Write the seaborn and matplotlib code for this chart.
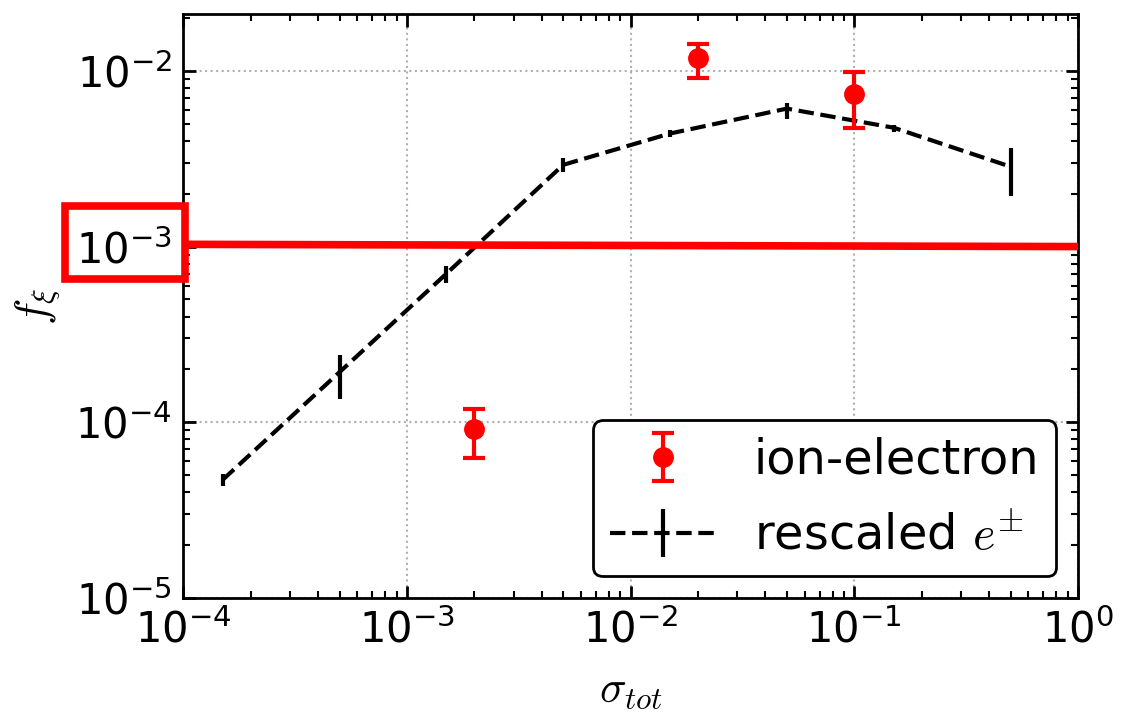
import matplotlib
matplotlib.use("Agg")
import matplotlib.pyplot as plt
import seaborn as sns
import numpy as np
from matplotlib.patches import Rectangle

# ion-electron data
ie_x = [2e-3, 2e-2, 1e-1]
ie_y = [9.1e-5, 1.19e-2, 7.4e-3]
ie_lo = [6.3e-5, 9.1e-3, 4.75e-3]
ie_hi = [1.19e-4, 1.42e-2, 9.9e-3]

# rescaled e+- data
ep_x = [1.5e-4, 5e-4, 1.5e-3, 5e-3, 1.5e-2, 5e-2, 1.5e-1, 5e-1]
ep_y = [4.7e-5, 1.93e-4, 7.0e-4, 2.92e-3, 4.4e-3, 6.1e-3, 4.75e-3, 2.85e-3]
ep_lo = [4.35e-5, 1.36e-4, 6.2e-4, 2.65e-3, 4.2e-3, 5.3e-3, 4.5e-3, 1.95e-3]
ep_hi = [5.05e-5, 2.43e-4, 7.8e-4, 3.2e-3, 4.6e-3, 6.6e-3, 4.95e-3, 3.64e-3]

# highlighted threshold line
thr_x = [1e-4, 1.0]
thr_y = [1.03e-3, 1.0e-3]

sns.set_style("ticks")
plt.rcParams['font.family'] = ['DejaVu Sans']
plt.rcParams['mathtext.fontset'] = 'cm'
plt.rcParams['text.color'] = 'black'
plt.rcParams['axes.labelcolor'] = 'black'

fig = plt.figure(figsize=(11.24, 7.14), dpi=100)
ax = fig.add_axes([0.163, 0.1625, 0.796, 0.8175])

ax.set_xscale('log')
ax.set_yscale('log')

ie_y = np.array(ie_y); ep_y = np.array(ep_y)
ie_err = [ie_y - np.array(ie_lo), np.array(ie_hi) - ie_y]
ep_err = [ep_y - np.array(ep_lo), np.array(ep_hi) - ep_y]

ax.errorbar(ie_x, ie_y, yerr=ie_err, fmt='o', color='red', ms=14,
            elinewidth=3, capsize=8, capthick=3, label='ion-electron', zorder=4)
ax.errorbar(ep_x, ep_y, yerr=ep_err, fmt='--', color='black', lw=3,
            elinewidth=3, capsize=0, label=r'rescaled $e^{\pm}$', zorder=3)

sns.lineplot(x=thr_x, y=thr_y, color='red', lw=5.5, ax=ax, zorder=5, legend=False)

ax.set_xlim(1e-4, 1)
ax.set_ylim(1e-5, 2.1e-2)

ax.grid(True, which='major', linestyle=':', color='#b0b0b0', lw=1.5)
ax.tick_params(which='both', direction='in', top=True, right=True, width=2, colors='black')
ax.tick_params(which='major', length=9, labelsize=30, pad=8)
ax.tick_params(which='minor', length=5, width=1.5)
for s in ax.spines.values():
    s.set_linewidth(2)
    s.set_color('black')

ax.set_xlabel(r'$\sigma_{tot}$', fontsize=32, labelpad=12)
ax.set_ylabel(r'$f_{\xi}$', fontsize=32, labelpad=10)

leg = ax.legend(loc='lower right', fontsize=34.5, frameon=True, fancybox=True,
                framealpha=1, edgecolor='black', handlelength=2.2,
                handletextpad=0.8, labelspacing=0.6, borderaxespad=0.45,
                borderpad=0.35)
leg.get_frame().set_linewidth(2)
for t in leg.get_texts():
    t.set_color('black')

# red box around the 1e-3 tick label
rect = Rectangle((65 / 1124, 1 - 279 / 714), 120 / 1124, 73 / 714,
                 transform=fig.transFigure, fill=False, edgecolor='red',
                 lw=5.5, zorder=10, clip_on=False)
fig.patches.append(rect)

fig.savefig('out.png', dpi=100)
